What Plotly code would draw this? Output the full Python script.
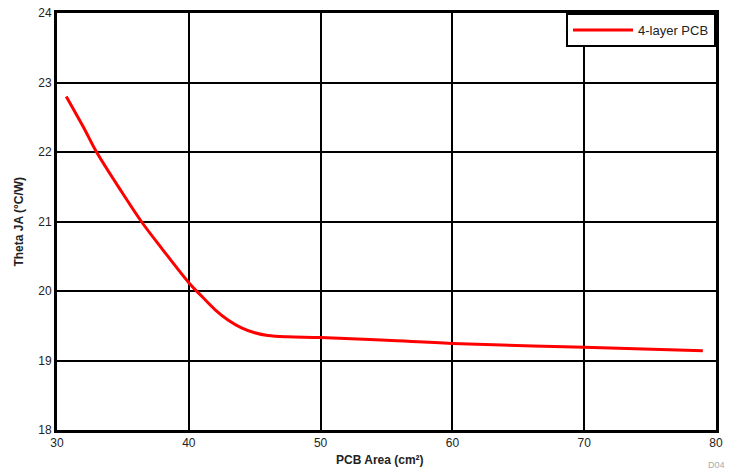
import plotly.graph_objects as go

# ====================================

pcb_area = [30.7, 32.0, 33.0, 35.0, 36.4, 38.0, 40.0, 41.0, 42.0, 43.0, 44.0, 45.0, 46.0, 47.5, 50.0, 55.0, 60.0, 70.0, 79.0]
theta_ja = [22.80, 22.36, 22.00, 21.40, 21.00, 20.60, 20.12, 19.92, 19.73, 19.58, 19.47, 19.40, 19.36, 19.34, 19.33, 19.29, 19.245, 19.19, 19.14]
series_name = '4-layer PCB'

x_ticks = [30, 40, 50, 60, 70, 80]
y_ticks = [18, 19, 20, 21, 22, 23, 24]

FONT = 'Liberation Sans, Arial, sans-serif'

# ====================================

fig = go.Figure()

fig.add_trace(
    go.Scatter(
        x=pcb_area,
        y=theta_ja,
        mode='lines',
        name=series_name,
        line=dict(color='#ff0000', width=3, shape='spline', smoothing=1)
    )
)

axis_common = dict(
    showgrid=True,
    gridcolor='black',
    gridwidth=2,
    showline=True,
    linecolor='black',
    linewidth=3,
    mirror=True,
    zeroline=False,
    ticks='',
    automargin=False,
    tickfont=dict(family=FONT, size=12, color='#222'),
)

fig.update_xaxes(range=[30, 80], tickvals=x_ticks, **axis_common)
fig.update_yaxes(range=[18, 24], tickvals=y_ticks, **axis_common)

fig.update_layout(
    width=731,
    height=470,
    showlegend=True,
    legend=dict(
        x=1, y=1, xanchor='right', yanchor='top',
        bgcolor='white',
        bordercolor='black',
        borderwidth=2,
        itemwidth=60,
        font=dict(family=FONT, size=13, color='#222'),
    ),
    annotations=[
        dict(
            text='<b>PCB Area (cm²)</b>',
            xref='paper', yref='paper',
            x=0.49, y=-0.072,
            xanchor='center', yanchor='middle',
            font=dict(family=FONT, size=12, color='#222'),
            showarrow=False
        ),
        dict(
            text='<b>Theta JA (°C/W)</b>',
            xref='paper', yref='paper',
            x=-0.059, y=0.5,
            xanchor='center', yanchor='middle',
            textangle=-90,
            font=dict(family=FONT, size=12, color='#222'),
            showarrow=False
        ),
        dict(
            text='D04',
            xref='paper', yref='paper',
            x=1.017, y=-0.084,
            xanchor='right', yanchor='middle',
            font=dict(family=FONT, size=9, color='#aaa'),
            showarrow=False
        ),
    ],
    paper_bgcolor='white',
    plot_bgcolor='white',
    margin=dict(t=13, b=40, r=15, l=57)
)

# page body has an 8px default margin, drop it so the figure fills the window
fig.write_html(
    'out.html',
    config={'displayModeBar': False},
    post_script="document.body.style.margin='0';"
)
